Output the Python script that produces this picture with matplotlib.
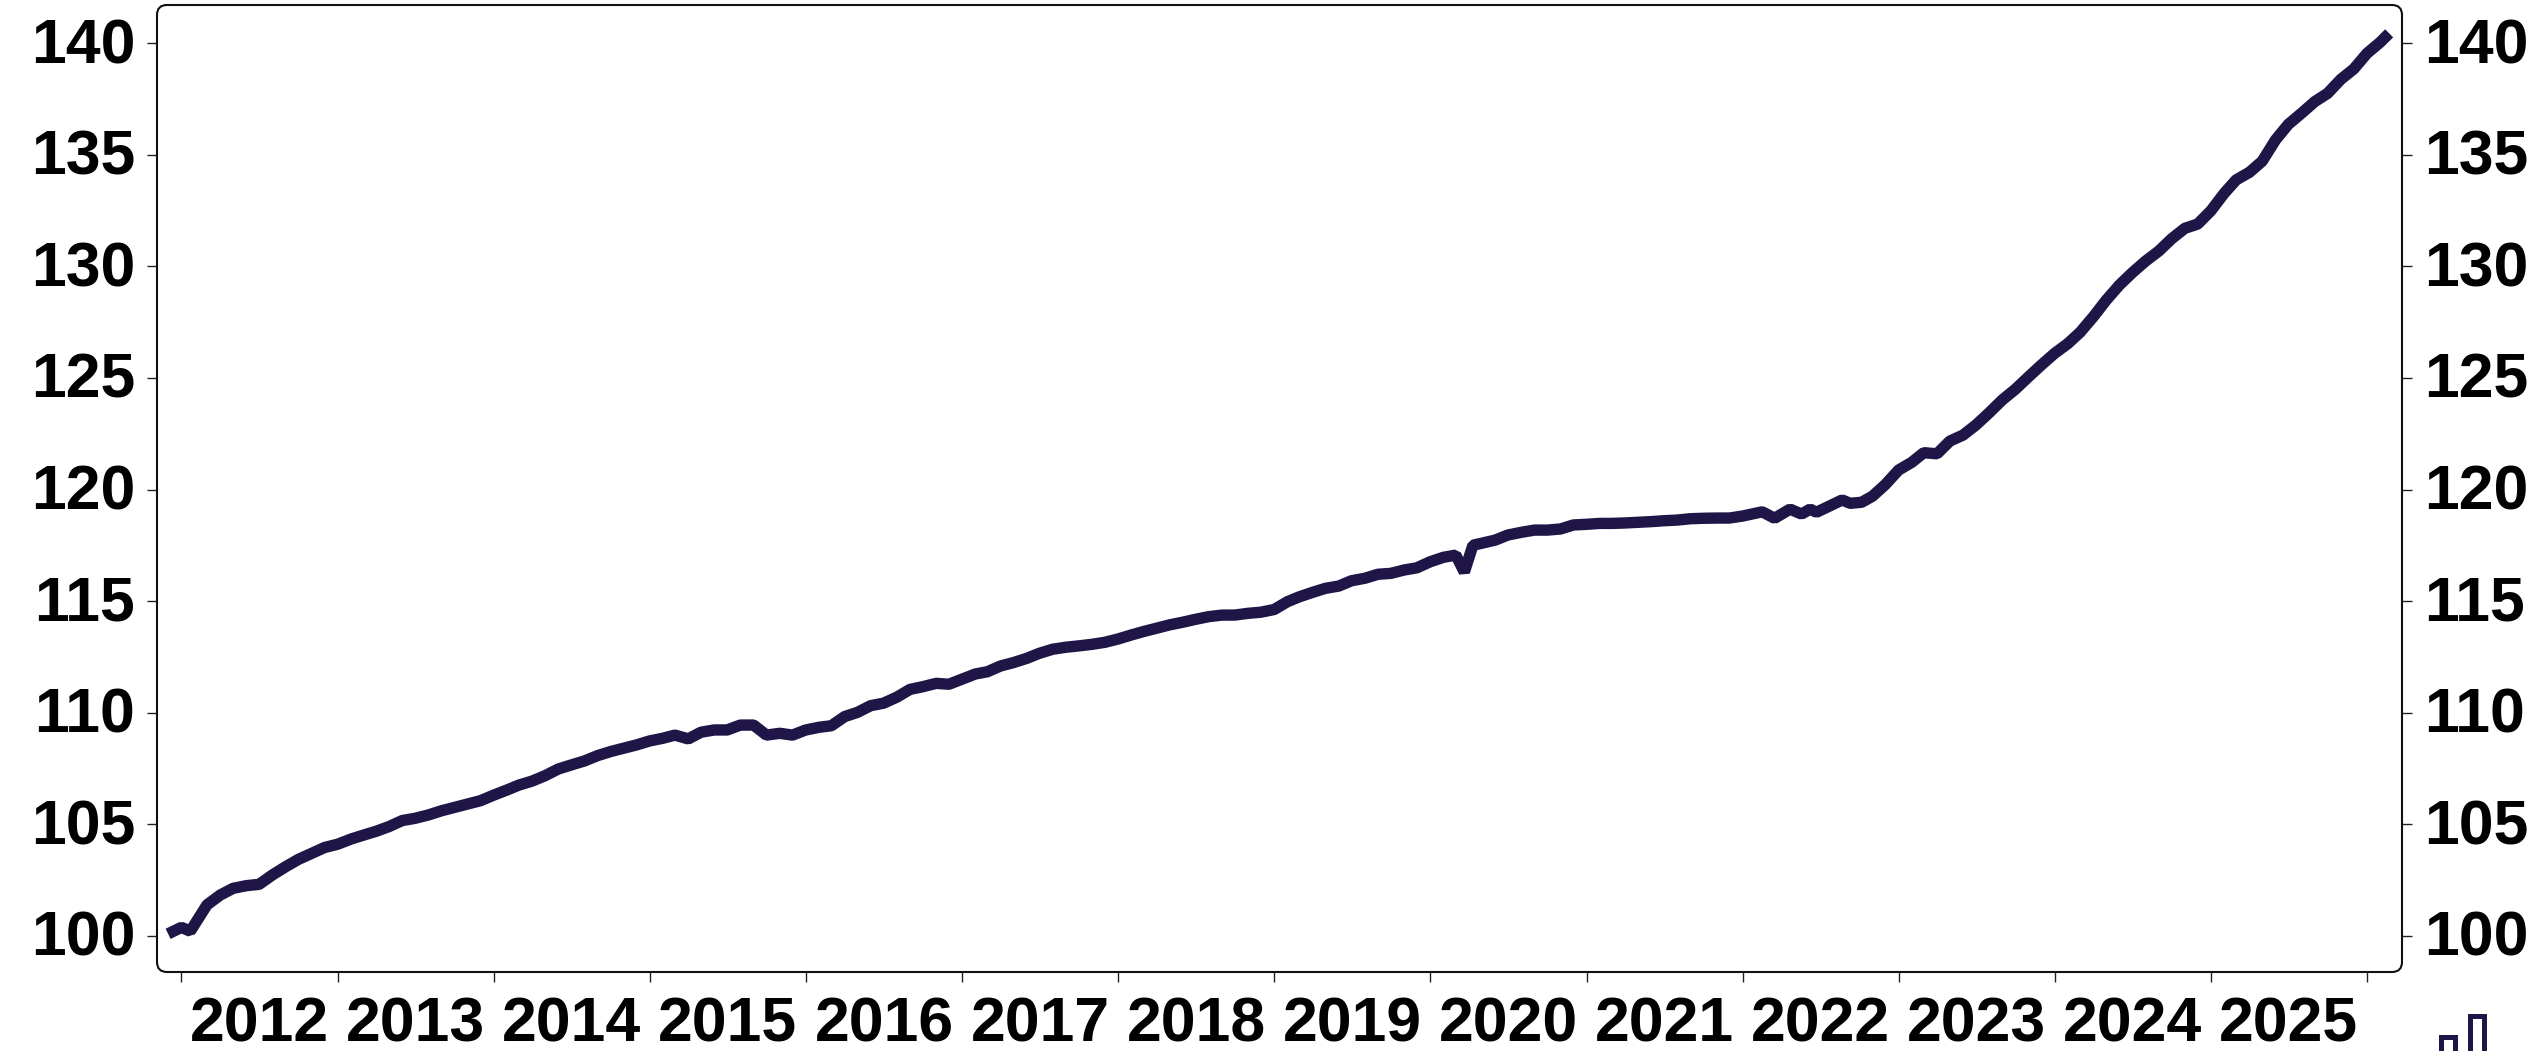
import matplotlib.pyplot as plt
import matplotlib.dates as mdates
import pandas as pd
from matplotlib.patches import FancyBboxPatch, Rectangle
from matplotlib.transforms import IdentityTransform, ScaledTranslation

plt.rcParams["font.family"] = ["Liberation Sans", "DejaVu Sans"]

NAVY = "#1F1647"
TICK_COLOR = "#222222"

WIDTH, HEIGHT = 2542, 1051
# axes box in pixels, measured from the top left of the picture
BOX_LEFT, BOX_RIGHT, BOX_TOP, BOX_BOTTOM = 157, 2402, 5, 972

# monthly index, Dec 2011 onwards
values_2011 = [100.08]
values_2012 = [100.37, 100.2, 101.38, 101.82, 102.12, 102.24, 102.3, 102.72, 103.09, 103.42, 103.69, 103.95]
values_2013 = [104.1, 104.33, 104.5, 104.68, 104.89, 105.16, 105.26, 105.41, 105.6, 105.75, 105.9, 106.05]
values_2014 = [106.3, 106.53, 106.75, 106.93, 107.17, 107.47, 107.65, 107.83, 108.07, 108.25, 108.4, 108.55]
values_2015 = [108.73, 108.85, 108.99, 108.82, 109.12, 109.22, 109.22, 109.44, 109.44, 108.99, 109.07, 108.99]
values_2016 = [109.22, 109.34, 109.41, 109.82, 110.01, 110.31, 110.42, 110.69, 111.04, 111.16, 111.31, 111.27]
values_2017 = [111.5, 111.73, 111.83, 112.09, 112.24, 112.43, 112.66, 112.84, 112.93, 112.99, 113.06, 113.15]
values_2018 = [113.3, 113.48, 113.63, 113.78, 113.93, 114.05, 114.18, 114.3, 114.37, 114.37, 114.45, 114.5]
values_2019 = [114.62, 114.97, 115.19, 115.39, 115.57, 115.67, 115.91, 116.02, 116.2, 116.24, 116.39, 116.49]
values_2020 = [116.76, 116.96, 117.06, 116.3, 117.5, 117.73, 117.96, 118.08, 118.18, 118.18, 118.23, 118.41]
values_2021 = [118.44, 118.48, 118.48, 118.5, 118.53, 118.56, 118.6, 118.63, 118.69, 118.71, 118.72, 118.72]
values_2022 = [118.81, 119.0, 118.71, 119.12, 118.9, 119.12, 118.98, 119.53, 119.38, 119.43, 119.7, 120.22]
values_2023 = [120.87, 121.22, 121.65, 121.6, 122.17, 122.44, 122.89, 123.44, 124.02, 124.49, 125.05, 125.58]
values_2024 = [126.1, 126.54, 127.05, 127.75, 128.49, 129.17, 129.72, 130.24, 130.69, 131.24, 131.71, 131.9]
values_2025 = [132.5, 133.28, 133.88, 134.22, 134.72, 135.67, 136.37, 136.87, 137.39, 137.76, 138.39, 138.85]
values_2026 = [139.55, 140.05, 140.45]

# readings that do not fall on the first of their month
date_fixes = {
    "2012-02": "2012-01-22",
    "2020-04": "2020-03-21",
    "2020-05": "2020-04-10",
    "2022-02": "2022-02-16",
    "2022-03": "2022-03-17",
    "2022-04": "2022-04-22",
    "2022-05": "2022-05-19",
    "2022-06": "2022-06-08",
    "2022-07": "2022-06-23",
    "2022-08": "2022-08-22",
    "2022-09": "2022-09-10",
    "2022-10": "2022-10-07",
    "2026-03": "2026-02-22",
}

values = (
    values_2011 + values_2012 + values_2013 + values_2014 + values_2015
    + values_2016 + values_2017 + values_2018 + values_2019 + values_2020
    + values_2021 + values_2022 + values_2023 + values_2024 + values_2025
    + values_2026
)
months = pd.date_range("2011-12-01", periods=len(values), freq="MS")
dates = [pd.Timestamp(date_fixes.get(m.strftime("%Y-%m"), m)) for m in months]

y_ticks = [100, 105, 110, 115, 120, 125, 130, 135, 140]

fig = plt.figure(figsize=(WIDTH / 100, HEIGHT / 100), dpi=100)
ax = fig.add_axes([
    BOX_LEFT / WIDTH,
    1 - BOX_BOTTOM / HEIGHT,
    (BOX_RIGHT - BOX_LEFT) / WIDTH,
    (BOX_BOTTOM - BOX_TOP) / HEIGHT,
])

ax.plot(dates, values, color=NAVY, linewidth=8.2, solid_capstyle="butt", solid_joinstyle="bevel")

ax.set_ylim(98.37, 141.72)
ax.set_xlim(pd.Timestamp("2011-11-05"), pd.Timestamp("2026-03-24"))

ax.set_yticks(y_ticks)
ax.tick_params(axis="y", which="major", left=True, right=True, labelleft=True, labelright=True,
               length=7.2, width=1.0, color=TICK_COLOR, labelsize=45, pad=8.5)
# the reference labels sit a little above their ticks
lift = ScaledTranslation(0, 2.2 / 72, fig.dpi_scale_trans)
for label in ax.get_yticklabels():
    label.set_fontweight("bold")
    label.set_transform(label.get_transform() + lift)

# ticks sit on 1 Jan, labels are centred on the middle of the year
ax.xaxis.set_major_locator(mdates.YearLocator())
ax.xaxis.set_major_formatter(plt.NullFormatter())
ax.xaxis.set_minor_locator(mdates.MonthLocator(bymonth=7, bymonthday=2))
ax.xaxis.set_minor_formatter(mdates.DateFormatter("%Y"))
ax.tick_params(axis="x", which="major", length=7.2, width=1.0, color=TICK_COLOR)
ax.tick_params(axis="x", which="minor", length=0, labelsize=45, pad=17)
for label in ax.get_xticklabels(minor=True):
    label.set_fontweight("bold")

for spine in ax.spines.values():
    spine.set_visible(False)

# rounded frame drawn in pixels so the corners stay circular
frame = FancyBboxPatch(
    (BOX_LEFT, HEIGHT - BOX_BOTTOM),
    BOX_RIGHT - BOX_LEFT,
    BOX_BOTTOM - BOX_TOP,
    boxstyle="round,pad=0,rounding_size=10",
    transform=IdentityTransform(),
    facecolor="none",
    edgecolor="#111111",
    linewidth=1.5,
    zorder=5,
)
fig.add_artist(frame)

# logo cut off by the bottom edge of the picture
for left, top, right in [(2440.5, 1036.5, 2454.5), (2469.5, 1015.5, 2483.5)]:
    fig.add_artist(Rectangle(
        (left, -10), right - left, HEIGHT - top + 10,
        transform=IdentityTransform(), facecolor="white", edgecolor=NAVY, linewidth=3.6,
    ))

fig.savefig("out.png", dpi=100)
